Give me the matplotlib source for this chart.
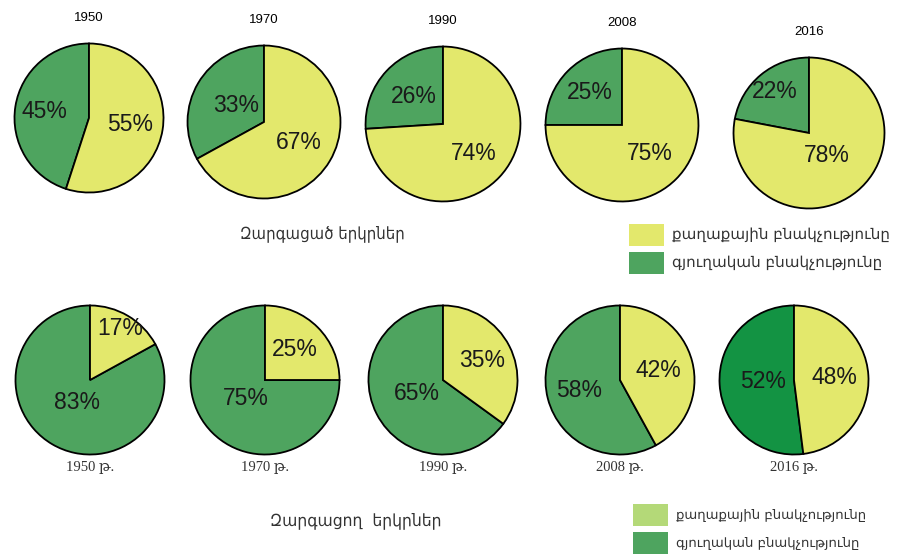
import numpy as np
import matplotlib.pyplot as plt
from matplotlib.patches import Rectangle

# Urban / rural population shares, percent
years = [1950, 1970, 1990, 2008, 2016]
developed_urban = [55, 67, 74, 75, 78]
developed_rural = [45, 33, 26, 25, 22]
developing_urban = [17, 25, 35, 42, 48]
developing_rural = [83, 75, 65, 58, 52]

title_developed = "Զարգացած երկրներ"
title_developing = "Զարգացող  երկրներ"
legend_urban = "քաղաքային բնակչությունը"
legend_rural = "գյուղական բնակչությունը"
year_suffix = " թ."

YELLOW = "#e3e86c"
GREEN = "#4ea45f"
DARK_GREEN = "#139343"
LIGHT_GREEN = "#b4d978"

W, H = 899, 556
fig = plt.figure(figsize=(W / 100, H / 100), dpi=100)

# pie placement in pixels: (cx, cy, r)
top_layout = [(89, 118, 76), (264, 122, 78), (443, 124, 79), (622, 125, 78), (809, 133, 77)]
bottom_layout = [(90, 380, 76), (265, 380, 76), (443, 380, 76), (620, 380, 76), (794, 380, 76)]
# label distance from center as fraction of radius: (rural, urban)
top_label_dist = [(0.6, 0.56), (0.42, 0.53), (0.52, 0.55), (0.6, 0.52), (0.72, 0.38)]
bottom_label_dist = [(0.35, 0.8), (0.36, 0.57), (0.4, 0.59), (0.57, 0.53), (0.42, 0.55)]
bottom_rural_colors = [GREEN, GREEN, GREEN, GREEN, DARK_GREEN]


def pie_at(cx, cy, r, rural, urban, colors, dists):
    ax = fig.add_axes([(cx - r) / W, 1 - (cy + r) / H, 2 * r / W, 2 * r / H])
    wedges, _ = ax.pie([rural, urban], colors=colors, startangle=90,
                       counterclock=True, radius=1,
                       wedgeprops=dict(edgecolor="black", linewidth=1.3))
    for w, val, d in zip(wedges, [rural, urban], dists):
        mid = np.deg2rad((w.theta1 + w.theta2) / 2)
        ax.text(d * np.cos(mid), d * np.sin(mid), f"{val}%", ha="center",
                va="center", fontsize=16.5, family="Liberation Sans", color="#1a1a1a")
    ax.set_xlim(-1.02, 1.02)
    ax.set_ylim(-1.02, 1.02)
    ax.axis("off")
    return ax


for i, yr in enumerate(years):
    cx, cy, r = top_layout[i]
    pie_at(cx, cy, r, developed_rural[i], developed_urban[i], [GREEN, YELLOW], top_label_dist[i])
    fig.text(cx / W, 1 - (cy - r - 24) / H, str(yr), ha="center", va="center",
             fontsize=9.5, family="Liberation Sans")

    cx, cy, r = bottom_layout[i]
    pie_at(cx, cy, r, developing_rural[i], developing_urban[i],
           [bottom_rural_colors[i], YELLOW], bottom_label_dist[i])
    fig.text(cx / W, 1 - (cy + r + 12) / H, f"{yr}{year_suffix}", ha="center", va="center",
             fontsize=10.5, family=["Liberation Serif", "DejaVu Serif"], color="#333333")

# group titles
fig.text(322 / W, 1 - 233 / H, title_developed, ha="center", va="center",
         fontsize=12, family="DejaVu Sans", fontstretch="condensed", color="#333333")
fig.text(356 / W, 1 - 520 / H, title_developing, ha="center", va="center",
         fontsize=12.5, family="DejaVu Sans", fontstretch="condensed", color="#333333")


def legend_rows(x, rows):
    for y0, h, color, label, fs in rows:
        fig.add_artist(Rectangle((x / W, 1 - (y0 + h) / H), 35 / W, h / H,
                                 transform=fig.transFigure, facecolor=color, edgecolor="none"))
        fig.text((x + 43) / W, 1 - (y0 + h / 2) / H, label, ha="left", va="center",
                 fontsize=fs, family="DejaVu Sans", color="#333333")


legend_rows(629, [(224, 22, YELLOW, legend_urban, 10.9),
                  (252, 22, GREEN, legend_rural, 10.9)])
legend_rows(633, [(504, 22, LIGHT_GREEN, legend_urban, 9.5),
                  (532, 22, GREEN, legend_rural, 9.5)])

fig.savefig("out.png", dpi=100, facecolor="white")
